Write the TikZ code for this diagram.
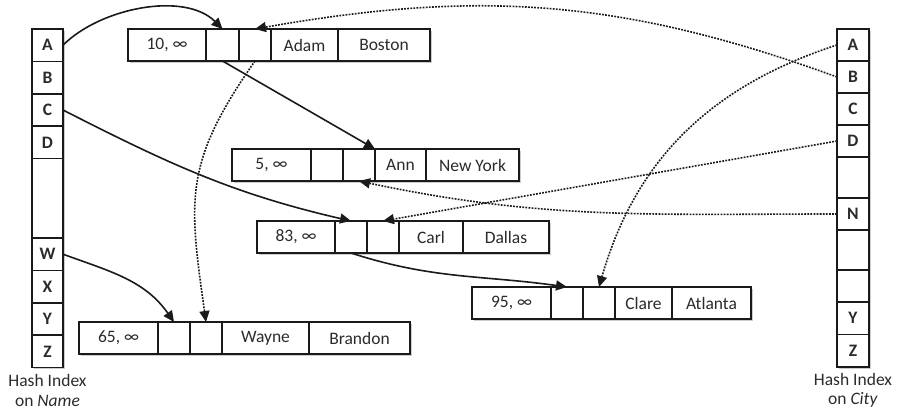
\documentclass[tikz,border=0pt]{standalone}
\usepackage{fontspec}
\setmainfont{Carlito}
\usetikzlibrary{arrows.meta,shadows}
\definecolor{ink}{HTML}{1A1A1A}
\definecolor{txt}{HTML}{2B2B2B}
\tikzset{
  cell/.style={draw=ink, line width=1.6pt, fill=white, minimum height=32pt,
    anchor=north west, inner sep=0pt, outer sep=0pt, text=txt,
    font=\fontsize{17.5}{19.5}\selectfont,
    drop shadow={shadow xshift=1.5pt, shadow yshift=-1.8pt, fill=black, opacity=0.2}},
  idx/.style={cell, font=\fontsize{17.5}{19.5}\selectfont\bfseries},
  lbl/.style={align=center, text=txt, inner sep=0pt, font=\fontsize{17.5}{19.5}\selectfont},
  link/.style={draw=ink, line width=1.6pt, -{Triangle[length=11pt,width=10pt]}},
  dotlink/.style={link, dash pattern=on 1.8pt off 1.3pt}
}
\begin{document}
\begin{tikzpicture}[x=1pt,y=1pt]
\useasboundingbox (0,0) rectangle (899,410);
% left index on Name
\node[idx, minimum width=31pt, minimum height=32.4pt] (lA) at (32,381) {A};
\node[idx, minimum width=31pt, minimum height=32.4pt] (lB) at (lA.south west) {B};
\node[idx, minimum width=31pt, minimum height=32.4pt] (lC) at (lB.south west) {C};
\node[idx, minimum width=31pt, minimum height=32.4pt] (lD) at (lC.south west) {D};
\node[idx, minimum width=31pt, minimum height=79.4pt] (lE) at (lD.south west) {};
\node[idx, minimum width=31pt, minimum height=32.4pt] (lW) at (lE.south west) {W};
\node[idx, minimum width=31pt, minimum height=32.4pt] (lX) at (lW.south west) {X};
\node[idx, minimum width=31pt, minimum height=32.4pt] (lY) at (lX.south west) {Y};
\node[idx, minimum width=31pt, minimum height=32.4pt] (lZ) at (lY.south west) {Z};
% right index on City
\node[idx, minimum width=32pt] (rA) at (837,381) {A};
\node[idx, minimum width=32pt] (rB) at (rA.south west) {B};
\node[idx, minimum width=32pt] (rC) at (rB.south west) {C};
\node[idx, minimum width=32pt] (rD) at (rC.south west) {D};
\node[idx, minimum width=32pt, minimum height=41pt] (rE) at (rD.south west) {};
\node[idx, minimum width=32pt] (rN) at (rE.south west) {N};
\node[idx, minimum width=32pt, minimum height=40pt] (rF) at (rN.south west) {};
\node[idx, minimum width=32pt] (rG) at (rF.south west) {};
\node[idx, minimum width=32pt, minimum height=32.5pt] (rY) at (rG.south west) {Y};
\node[idx, minimum width=32pt, minimum height=32.5pt] (rZ) at (rY.south west) {Z};
% labels
\node[lbl] (nameLbl) at (47.5,19.5) {Hash Index\\on \textit{Name}};
\node[lbl] (cityLbl) at (853,19.5) {Hash Index\\on \textit{City}};
% record Adam
\node[cell, minimum width=78pt] (r1a) at (128,381) {10, ∞};
\node[cell, minimum width=33pt] (r1p) at (r1a.north east) {};
\node[cell, minimum width=32pt] (r1q) at (r1p.north east) {};
\node[cell, minimum width=67pt] (r1n) at (r1q.north east) {Adam};
\node[cell, minimum width=92pt] (r1c) at (r1n.north east) {Boston};
% record Ann
\node[cell, minimum width=79pt] (r2a) at (232,261) {5, ∞};
\node[cell, minimum width=32pt] (r2p) at (r2a.north east) {};
\node[cell, minimum width=32pt] (r2q) at (r2p.north east) {};
\node[cell, minimum width=51pt] (r2n) at (r2q.north east) {Ann};
\node[cell, minimum width=93pt] (r2c) at (r2n.north east) {New York};
% record Carl
\node[cell, minimum width=78pt] (r3a) at (257,189) {83, ∞};
\node[cell, minimum width=32pt] (r3p) at (r3a.north east) {};
\node[cell, minimum width=32pt] (r3q) at (r3p.north east) {};
\node[cell, minimum width=64pt] (r3n) at (r3q.north east) {Carl};
\node[cell, minimum width=86pt] (r3c) at (r3n.north east) {Dallas};
% record Clare
\node[cell, minimum width=79pt] (r4a) at (472,123) {95, ∞};
\node[cell, minimum width=32pt] (r4p) at (r4a.north east) {};
\node[cell, minimum width=32pt] (r4q) at (r4p.north east) {};
\node[cell, minimum width=57pt] (r4n) at (r4q.north east) {Clare};
\node[cell, minimum width=79pt] (r4c) at (r4n.north east) {Atlanta};
% record Wayne
\node[cell, minimum width=79pt] (r5a) at (79,88) {65, ∞};
\node[cell, minimum width=32pt] (r5p) at (r5a.north east) {};
\node[cell, minimum width=32pt] (r5q) at (r5p.north east) {};
\node[cell, minimum width=87pt] (r5n) at (r5q.north east) {Wayne};
\node[cell, minimum width=101pt] (r5c) at (r5n.north east) {Brandon};
% name chains (solid)
\draw[link] (lA.east) to[out=45,in=135,looseness=0.85] (r1p.north);
\draw[link] (r1p.south) -- (r2q.north east);
\draw[link] (lC.east) to[out=-27,in=167] (r3p.north);
\draw[link] (r3p.south) to[out=-18,in=172] (r4p.north);
\draw[link] (lW.east) to[out=-20,in=125] (r5p.north);
% city chains (dotted)
\draw[dotlink] (rB.west) to[out=160,in=10] (r1q.north);
\draw[dotlink] (rA.west) to[out=198,in=74] (r4q.north);
\draw[dotlink] (rD.west) -- (r3q.north);
\draw[dotlink] (rN.west) to[out=180,in=-12] (r2q.south);
\draw[dotlink] (r1q.south) to[out=235,in=98,looseness=1.2] (r5q.north);
\end{tikzpicture}
\end{document}
